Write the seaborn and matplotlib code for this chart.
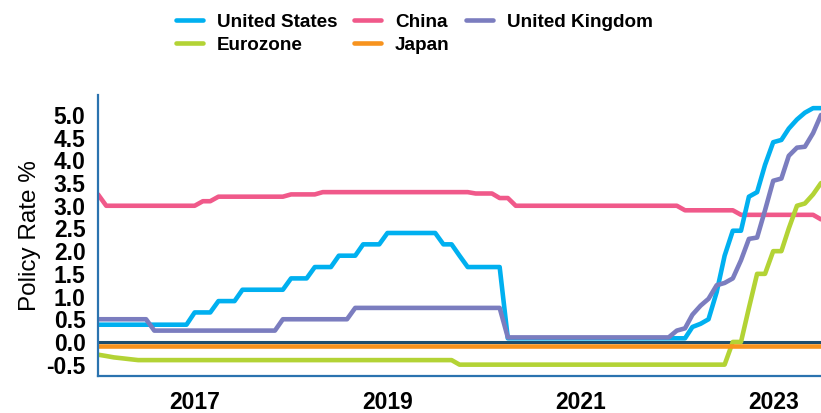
import matplotlib
matplotlib.use("Agg")
import matplotlib.pyplot as plt
import pandas as pd
import seaborn as sns

sns.set_style("white")
plt.rcParams['font.family'] = ['Liberation Sans', 'DejaVu Sans']
plt.rcParams['text.color'] = 'black'
plt.rcParams['axes.labelcolor'] = 'black'
plt.rcParams['xtick.color'] = 'black'
plt.rcParams['ytick.color'] = 'black'

# monthly policy rates, Jan 2016 - Jul 2023
months = pd.date_range("2016-01-01", "2023-07-01", freq="MS")

united_states = [
    0.38, 0.38, 0.38, 0.38, 0.38, 0.38, 0.38, 0.38, 0.38, 0.38, 0.38, 0.38,
    0.65, 0.65, 0.65, 0.9, 0.9, 0.9, 1.15, 1.15, 1.15, 1.15, 1.15, 1.15,
    1.4, 1.4, 1.4, 1.65, 1.65, 1.65, 1.9, 1.9, 1.9, 2.15, 2.15, 2.15,
    2.4, 2.4, 2.4, 2.4, 2.4, 2.4, 2.4, 2.15, 2.15, 1.9, 1.65, 1.65,
    1.65, 1.65, 1.65, 0.08, 0.08, 0.08, 0.08, 0.08, 0.08, 0.08, 0.08, 0.08,
    0.08, 0.08, 0.08, 0.08, 0.08, 0.08, 0.08, 0.08, 0.08, 0.08, 0.08, 0.08,
    0.08, 0.08, 0.33, 0.4, 0.5, 1.1, 1.9, 2.45, 2.45, 3.2, 3.3, 3.9,
    4.4, 4.45, 4.7, 4.9, 5.05, 5.15, 5.15,
]
china = [
    3.25, 3.0, 3.0, 3.0, 3.0, 3.0, 3.0, 3.0, 3.0, 3.0, 3.0, 3.0,
    3.0, 3.1, 3.1, 3.2, 3.2, 3.2, 3.2, 3.2, 3.2, 3.2, 3.2, 3.2,
    3.25, 3.25, 3.25, 3.25, 3.3, 3.3, 3.3, 3.3, 3.3, 3.3, 3.3, 3.3,
    3.3, 3.3, 3.3, 3.3, 3.3, 3.3, 3.3, 3.3, 3.3, 3.3, 3.3, 3.27,
    3.27, 3.27, 3.17, 3.17, 3.0, 3.0, 3.0, 3.0, 3.0, 3.0, 3.0, 3.0,
    3.0, 3.0, 3.0, 3.0, 3.0, 3.0, 3.0, 3.0, 3.0, 3.0, 3.0, 3.0,
    3.0, 2.9, 2.9, 2.9, 2.9, 2.9, 2.9, 2.9, 2.8, 2.8, 2.8, 2.8,
    2.8, 2.8, 2.8, 2.8, 2.8, 2.8, 2.7,
]
united_kingdom = [
    0.5, 0.5, 0.5, 0.5, 0.5, 0.5, 0.5, 0.25, 0.25, 0.25, 0.25, 0.25,
    0.25, 0.25, 0.25, 0.25, 0.25, 0.25, 0.25, 0.25, 0.25, 0.25, 0.25, 0.5,
    0.5, 0.5, 0.5, 0.5, 0.5, 0.5, 0.5, 0.5, 0.75, 0.75, 0.75, 0.75,
    0.75, 0.75, 0.75, 0.75, 0.75, 0.75, 0.75, 0.75, 0.75, 0.75, 0.75, 0.75,
    0.75, 0.75, 0.75, 0.1, 0.1, 0.1, 0.1, 0.1, 0.1, 0.1, 0.1, 0.1,
    0.1, 0.1, 0.1, 0.1, 0.1, 0.1, 0.1, 0.1, 0.1, 0.1, 0.1, 0.1,
    0.25, 0.3, 0.6, 0.8, 0.95, 1.25, 1.3, 1.4, 1.8, 2.27, 2.3, 2.9,
    3.55, 3.6, 4.1, 4.28, 4.3, 4.6, 5.0,
]
eurozone = [
    -0.28, -0.31, -0.34, -0.36, -0.38, -0.4, -0.4, -0.4, -0.4, -0.4, -0.4, -0.4,
    -0.4, -0.4, -0.4, -0.4, -0.4, -0.4, -0.4, -0.4, -0.4, -0.4, -0.4, -0.4,
    -0.4, -0.4, -0.4, -0.4, -0.4, -0.4, -0.4, -0.4, -0.4, -0.4, -0.4, -0.4,
    -0.4, -0.4, -0.4, -0.4, -0.4, -0.4, -0.4, -0.4, -0.4, -0.5, -0.5, -0.5,
    -0.5, -0.5, -0.5, -0.5, -0.5, -0.5, -0.5, -0.5, -0.5, -0.5, -0.5, -0.5,
    -0.5, -0.5, -0.5, -0.5, -0.5, -0.5, -0.5, -0.5, -0.5, -0.5, -0.5, -0.5,
    -0.5, -0.5, -0.5, -0.5, -0.5, -0.5, -0.5, 0.0, 0.0, 0.75, 1.5, 1.5,
    2.0, 2.0, 2.5, 3.0, 3.05, 3.25, 3.5,
]
japan = [-0.1] * 91

series = {
    "China": china,
    "United States": united_states,
    "United Kingdom": united_kingdom,
    "Eurozone": eurozone,
    "Japan": japan,
}
colors = {
    "United States": "#00B0F0",
    "China": "#F0598A",
    "United Kingdom": "#7B7DBF",
    "Eurozone": "#B3D335",
    "Japan": "#F7931E",
}
legend_order = ["United States", "Eurozone", "China", "Japan", "United Kingdom"]

df = pd.concat(
    [pd.DataFrame({"date": months, "rate": v, "country": k}) for k, v in series.items()]
)

fig = plt.figure(figsize=(8.21, 4.13), dpi=100)
ax = fig.add_axes([0.1194, 0.0896, 0.8806, 0.6804])

ax.axhline(0, color="#1D4E6E", lw=2.2, zorder=1.5)
sns.lineplot(data=df, x="date", y="rate", hue="country", hue_order=list(series),
             palette=colors, lw=3.3, ax=ax, zorder=2)

handles, labels = ax.get_legend_handles_labels()
lookup = dict(zip(labels, handles))
ax.get_legend().remove()
fig.legend([lookup[k] for k in legend_order], legend_order, ncol=3, frameon=False,
           loc="upper left", bbox_to_anchor=(0.203, 0.99), borderpad=0,
           prop={"weight": "bold", "size": 13.6}, handlelength=1.4,
           handletextpad=0.75, columnspacing=0.9, labelspacing=0.3)

ax.set_xlim(months[0], months[-1])
ax.set_ylim(-0.75, 5.44)
ax.set_yticks([-0.5, 0.0, 0.5, 1.0, 1.5, 2.0, 2.5, 3.0, 3.5, 4.0, 4.5, 5.0])
ax.set_yticklabels([f"{t:.1f}" for t in ax.get_yticks()])
ax.set_xticks(pd.to_datetime(["2017-01-01", "2019-01-01", "2021-01-01", "2023-01-01"]))
ax.set_xticklabels(["2017", "2019", "2021", "2023"])
ax.tick_params(axis="both", length=0, labelsize=16.5)
ax.tick_params(axis="y", pad=9)
ax.tick_params(axis="x", pad=11)
for lab in ax.get_xticklabels() + ax.get_yticklabels():
    lab.set_fontweight("bold")

ax.set_xlabel("")
ax.set_ylabel("Policy Rate %", fontsize=17.5, labelpad=4)

for side in ["top", "right"]:
    ax.spines[side].set_visible(False)
for side in ["left", "bottom"]:
    ax.spines[side].set_color("#2B73AF")
    ax.spines[side].set_linewidth(1.6)

fig.savefig("out.png", dpi=100)
